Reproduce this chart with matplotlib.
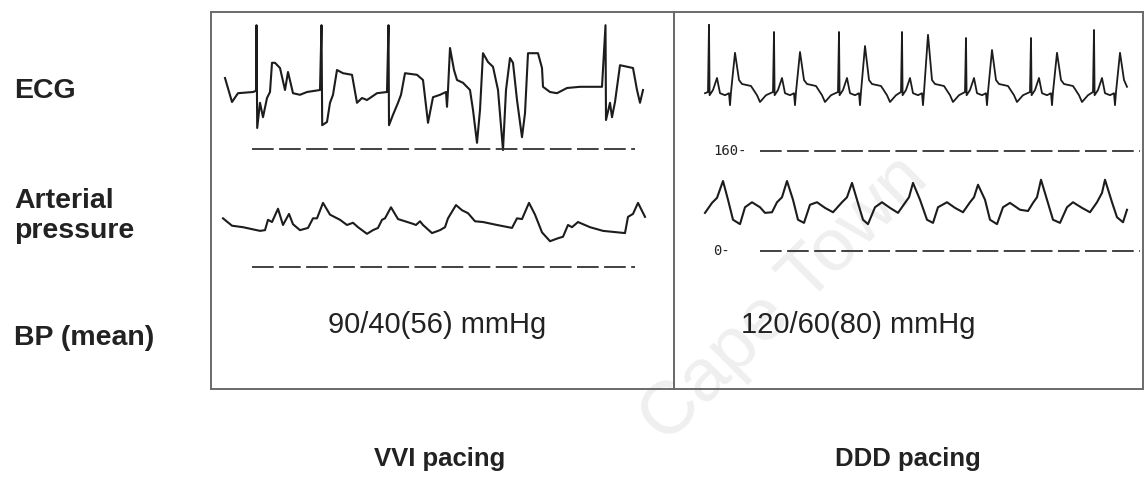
import matplotlib
matplotlib.use("Agg")
import matplotlib.pyplot as plt

plt.rcParams['font.family'] = ['Liberation Sans', 'DejaVu Sans']

# ---- data ----
row_labels = ["ECG", "Arterial\npressure", "BP (mean)"]
modes = ["VVI pacing", "DDD pacing"]
bp_text = ["90/40(56) mmHg", "120/60(80) mmHg"]
scale_marks = [160, 0]

# VVI ECG (time s, mV)
ecg_vvi_t = [0.05, 0.12, 0.18, 0.33, 0.36, 0.365, 0.372, 0.40, 0.43, 0.47,
             0.50, 0.52, 0.55, 0.60, 0.65, 0.68, 0.73, 0.80, 0.87, 1.00,
             1.015, 1.022, 1.07, 1.10, 1.13, 1.17, 1.23, 1.32, 1.37, 1.42,
             1.47, 1.57, 1.67, 1.685, 1.69, 1.73, 1.78, 1.81, 1.85, 1.97,
             2.03, 2.08, 2.13, 2.20, 2.26, 2.27, 2.28, 2.30, 2.34, 2.37,
             2.43, 2.50, 2.53, 2.57, 2.60, 2.63, 2.68, 2.73, 2.78, 2.83,
             2.86, 2.90, 2.93, 2.97, 3.02, 3.05, 3.08, 3.18, 3.22, 3.23,
             3.30, 3.37, 3.47, 3.60, 3.82, 3.855, 3.86, 3.90, 3.92, 3.95,
             4.00, 4.13, 4.17, 4.20, 4.23]
ecg_vvi_v = [0.30, -0.30, -0.08, -0.05, -0.02, 1.62, -0.95, -0.32, -0.68, -0.20,
             -0.05, 0.68, 0.68, 0.55, 0.00, 0.45, -0.08, -0.12, -0.05, 0.00,
             1.62, -0.88, -0.80, -0.32, -0.12, 0.50, 0.42, 0.38, -0.32, -0.20,
             -0.25, -0.08, -0.05, 1.62, -0.88, -0.62, -0.32, -0.12, 0.42, 0.38,
             0.25, -0.82, -0.18, -0.12, -0.05, -0.42, 0.00, 1.05, 0.50, 0.25,
             0.18, 0.00, -0.50, -1.32, -0.50, 0.92, 0.70, 0.58, 0.00, -1.50,
             0.00, 0.80, 0.68, -0.25, -1.18, -0.58, 0.92, 0.92, 0.55, 0.08,
             -0.05, -0.08, 0.05, 0.08, 0.08, 1.62, -0.75, -0.32, -0.68, -0.30,
             0.62, 0.55, 0.00, -0.32, 0.00]

# VVI arterial pressure (time s, mmHg)
abp_vvi_t = [0.03, 0.12, 0.23, 0.40, 0.45, 0.48, 0.52, 0.58, 0.63, 0.69,
             0.73, 0.80, 0.88, 0.93, 0.97, 1.03, 1.10, 1.20, 1.27, 1.33,
             1.38, 1.47, 1.53, 1.58, 1.62, 1.65, 1.71, 1.78, 1.92, 1.96,
             2.00, 2.03, 2.12, 2.20, 2.25, 2.28, 2.36, 2.42, 2.48, 2.55,
             2.63, 2.77, 2.92, 2.97, 3.02, 3.09, 3.15, 3.22, 3.30, 3.38,
             3.43, 3.48, 3.52, 3.58, 3.70, 3.83, 4.05, 4.08, 4.13, 4.18, 4.25]
abp_vvi_p = [66, 56, 54, 49, 50, 64, 61, 79, 57, 72,
             58, 50, 53, 66, 66, 87, 71, 64, 57, 60,
             54, 45, 50, 53, 64, 66, 81, 65, 59, 57,
             62, 57, 46, 50, 54, 66, 84, 77, 73, 62,
             61, 57, 53, 66, 65, 87, 71, 47, 35, 39,
             41, 57, 54, 61, 54, 49, 46, 68, 72, 87, 68]

# DDD ECG (time s, mV)
ecg_ddd_t = [0.05,
             0.08, 0.09, 0.096, 0.13, 0.17, 0.20, 0.25, 0.29, 0.30, 0.31, 0.35, 0.39, 0.42, 0.51, 0.57, 0.60, 0.66,
             0.73, 0.74, 0.746, 0.78, 0.82, 0.85, 0.90, 0.94, 0.95, 0.96, 1.00, 1.04, 1.07, 1.16, 1.22, 1.25, 1.31,
             1.38, 1.39, 1.396, 1.43, 1.47, 1.50, 1.55, 1.59, 1.60, 1.61, 1.65, 1.69, 1.72, 1.81, 1.87, 1.90, 1.96,
             2.01, 2.02, 2.026, 2.06, 2.10, 2.13, 2.18, 2.22, 2.23, 2.24, 2.28, 2.32, 2.35, 2.44, 2.50, 2.53, 2.59,
             2.65, 2.66, 2.666, 2.70, 2.74, 2.77, 2.82, 2.86, 2.87, 2.88, 2.92, 2.96, 2.99, 3.08, 3.14, 3.17, 3.23,
             3.30, 3.31, 3.316, 3.35, 3.39, 3.42, 3.47, 3.51, 3.52, 3.53, 3.57, 3.61, 3.64, 3.73, 3.79, 3.82, 3.88,
             3.93, 3.94, 3.946, 3.98, 4.02, 4.05, 4.10, 4.14, 4.15, 4.16, 4.20, 4.24, 4.27]
ecg_ddd_v = [-0.03,
             0.00, 1.68, -0.08, 0.05, 0.35, -0.03, -0.08, -0.03, -0.33, 0.00, 0.98, 0.30, 0.20, 0.15, -0.08, -0.25, -0.08,
             0.00, 1.50, -0.08, 0.05, 0.35, -0.03, -0.08, -0.03, -0.33, 0.00, 1.00, 0.30, 0.20, 0.15, -0.08, -0.25, -0.08,
             0.00, 1.50, -0.08, 0.05, 0.35, -0.03, -0.08, -0.03, -0.33, 0.00, 1.15, 0.30, 0.20, 0.15, -0.08, -0.25, -0.08,
             0.00, 1.50, -0.08, 0.05, 0.35, -0.03, -0.08, -0.03, -0.33, 0.00, 1.43, 0.30, 0.20, 0.15, -0.08, -0.25, -0.08,
             0.00, 1.35, -0.08, 0.05, 0.35, -0.03, -0.08, -0.03, -0.33, 0.00, 1.05, 0.30, 0.20, 0.15, -0.08, -0.25, -0.08,
             0.00, 1.35, -0.08, 0.05, 0.35, -0.03, -0.08, -0.03, -0.33, 0.00, 0.98, 0.30, 0.20, 0.15, -0.08, -0.25, -0.08,
             0.00, 1.55, -0.08, 0.05, 0.35, -0.03, -0.08, -0.03, -0.33, 0.00, 0.98, 0.30, 0.13]

# DDD arterial pressure (time s, mmHg)
abp_ddd_t = [0.05, 0.12, 0.17, 0.23, 0.28, 0.33, 0.40, 0.45, 0.52, 0.60,
             0.65, 0.72, 0.77, 0.82, 0.87, 0.93, 0.98, 1.04, 1.10, 1.17,
             1.25, 1.33, 1.42, 1.47, 1.52, 1.57, 1.63, 1.68, 1.75, 1.82,
             1.90, 1.98, 2.05, 2.09, 2.13, 2.20, 2.27, 2.33, 2.38, 2.47,
             2.55, 2.63, 2.70, 2.74, 2.78, 2.85, 2.90, 2.97, 3.03, 3.10,
             3.20, 3.28, 3.33, 3.37, 3.41, 3.47, 3.53, 3.60, 3.67, 3.73,
             3.82, 3.90, 3.97, 4.02, 4.05, 4.12, 4.17, 4.23, 4.27]
abp_ddd_p = [61, 77, 85, 112, 82, 50, 43, 70, 78, 70,
             61, 62, 78, 86, 112, 82, 50, 45, 74, 78,
             69, 62, 78, 86, 109, 82, 50, 43, 70, 78,
             69, 61, 77, 86, 109, 82, 50, 45, 70, 78,
             69, 62, 78, 86, 106, 82, 50, 43, 70, 77,
             66, 64, 77, 86, 114, 82, 50, 45, 70, 78,
             69, 62, 78, 93, 114, 78, 54, 46, 66]

# ---- layout (pixel based) ----
W, H = 1145, 480
fig = plt.figure(figsize=(W / 100, H / 100), dpi=100)


def px_axes(x0, x1, y0, y1):
    return fig.add_axes([x0 / W, 1 - y1 / H, (x1 - x0) / W, (y1 - y0) / H])


ink = '#1c1c1c'

# watermark
fig.text(785 / W, 1 - 300 / H, "Cape Town", fontsize=54, color='#efefef',
         rotation=45, ha='center', va='center', zorder=-5)

# panel frames
for x0, x1 in [(211, 674), (674, 1143)]:
    fr = px_axes(x0, x1, 12, 389)
    fr.set_xticks([])
    fr.set_yticks([])
    fr.patch.set_alpha(0)
    for s in fr.spines.values():
        s.set_color('#6a6a6a')
        s.set_linewidth(1.4)

# VVI panel
ax = px_axes(220, 650, 20, 160)
ax.plot(ecg_vvi_t, ecg_vvi_v, color=ink, lw=1.5)
ax.set_xlim(0, 4.3)
ax.set_ylim(-1.75, 1.75)
ax.axis('off')

ax = px_axes(220, 650, 140, 280)
ax.plot(abp_vvi_t, abp_vvi_p, color=ink, lw=1.5)
ax.hlines(scale_marks, 0.32, 4.15, color='#333333', lw=1.3, linestyles=(0, (12, 3)))
ax.set_xlim(0, 4.3)
ax.set_ylim(-17.6, 172.2)
ax.axis('off')

# DDD panel
ax = px_axes(700, 1143, 20, 160)
ax.plot(ecg_ddd_t, ecg_ddd_v, color=ink, lw=1.3)
ax.set_xlim(0, 4.43)
ax.set_ylim(-1.7, 1.8)
ax.axis('off')

ax = px_axes(700, 1143, 140, 275)
ax.plot(abp_ddd_t, abp_ddd_p, color=ink, lw=1.5)
ax.hlines(scale_marks, 0.60, 4.40, color='#333333', lw=1.3, linestyles=(0, (12, 3)))
for m in scale_marks:
    ax.text(0.13, m, f"{m}-", fontsize=10, family='DejaVu Sans Mono',
            color='#222222', ha='left', va='center')
ax.set_xlim(0, 4.43)
ax.set_ylim(-38.4, 177.6)
ax.axis('off')

# row labels
for lab, y in zip(row_labels, [98, 238, 345]):
    fig.text(14 / W, 1 - y / H, lab, fontsize=20.5, fontweight='bold',
             color='#222222', ha='left', va='baseline', linespacing=1.2)

# BP values and modes
for txt, x in zip(bp_text, [437, 858]):
    fig.text(x / W, 1 - 333 / H, txt, fontsize=21, color='#222222',
             ha='center', va='baseline')
for txt, x in zip(modes, [440, 908]):
    fig.text(x / W, 1 - 466 / H, txt, fontsize=18.5, fontweight='bold',
             color='#222222', ha='center', va='baseline')

fig.savefig('out.png', dpi=100)
